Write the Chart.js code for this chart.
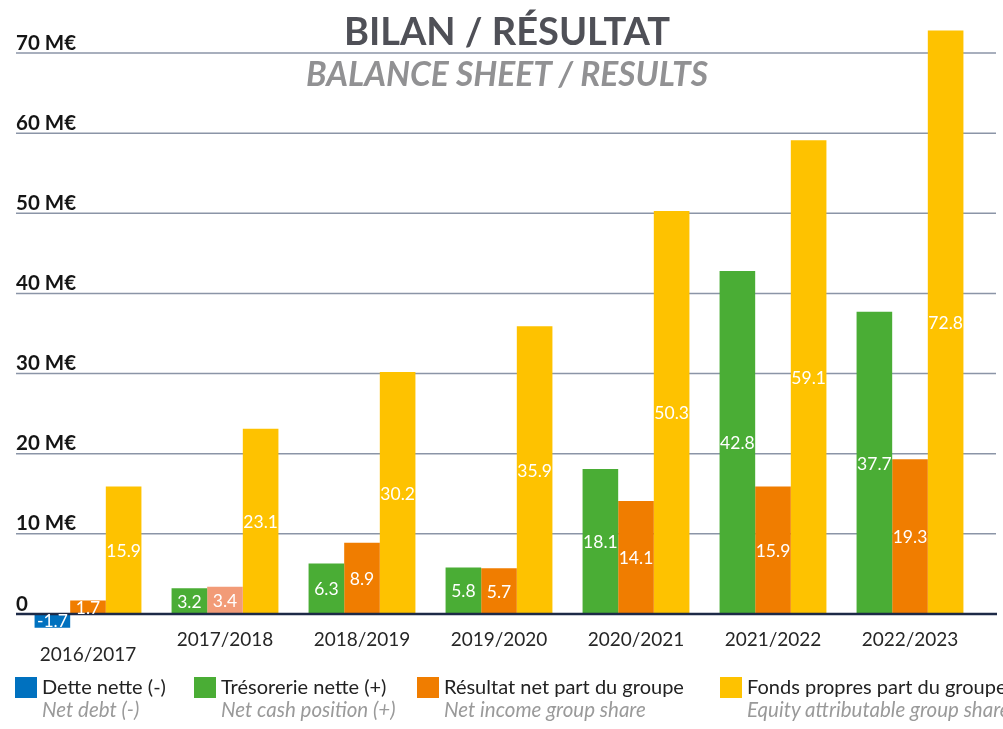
<!DOCTYPE html>
<html>
<head>
<meta charset="utf-8">
<script src="https://cdn.jsdelivr.net/npm/chart.js@4.4.1/dist/chart.umd.min.js"></script>
<style>
  html, body { margin: 0; padding: 0; background: #ffffff; }
  #wrap { position: relative; width: 1003px; height: 729px; overflow: hidden; font-family: Lato, "Noto Sans", sans-serif; }
  #chartBox { position: absolute; left: 0; top: 0; width: 1003px; height: 729px; }
  .title { position: absolute; left: 0; width: 1014px; text-align: center; font-weight: 700; white-space: nowrap; }
  #t1 { top: 8px; font-size: 38px; color: #4f5057; line-height: 44px; }
  #t2 { top: 53px; font-size: 33.5px; color: #919193; font-style: italic; line-height: 40px; }
  .leg { position: absolute; top: 677px; white-space: nowrap; }
  .leg .sw { position: absolute; left: 0; top: 0; width: 22px; height: 21px; }
  .leg .l1 { position: absolute; left: 27px; top: -3px; font-size: 20px; color: #222222; line-height: 25px; }
  .leg .l2 { position: absolute; left: 27px; top: 20px; font-size: 20.5px; color: #9a9a9a; font-style: italic; line-height: 24px; }
</style>
</head>
<body>
<div id="wrap">
  <div id="chartBox"><canvas id="c"></canvas></div>
  <div class="title" id="t1">BILAN / RÉSULTAT</div>
  <div class="title" id="t2">BALANCE SHEET / RESULTS</div>
  <div id="legend"></div>
</div>
<script>
// ---- data ----
const categories = ['2016/2017', '2017/2018', '2018/2019', '2019/2020', '2020/2021', '2021/2022', '2022/2023'];
const netCashDebt = [-1.7, 3.2, 6.3, 5.8, 18.1, 42.8, 37.7];
const netIncome = [1.7, 3.4, 8.9, 5.7, 14.1, 15.9, 19.3];
const equity = [15.9, 23.1, 30.2, 35.9, 50.3, 59.1, 72.8];
const yTickValues = [0, 10, 20, 30, 40, 50, 60, 70];
const yTickLabels = ['0', '10 M€', '20 M€', '30 M€', '40 M€', '50 M€', '60 M€', '70 M€'];
const legendItems = [
  { fr: 'Dette nette (-)', en: 'Net debt (-)' },
  { fr: 'Trésorerie nette (+)', en: 'Net cash position (+)' },
  { fr: 'Résultat net part du groupe', en: 'Net income group share' },
  { fr: 'Fonds propres part du groupe', en: 'Equity attributable group share' }
];

// ---- styles ----
const BLUE = '#0071bf', GREEN = '#4aad35', ORANGE = '#f07d00', SALMON = '#f29b77', YELLOW = '#fec200';
const legendColors = [BLUE, GREEN, ORANGE, YELLOW];
const legendX = [15, 194, 417, 720];
const incomeColors = [ORANGE, SALMON, ORANGE, ORANGE, ORANGE, ORANGE, ORANGE];

// legend
const lg = document.getElementById('legend');
legendItems.forEach((it, i) => {
  const d = document.createElement('div');
  d.className = 'leg';
  d.style.left = legendX[i] + 'px';
  d.innerHTML = '<div class="sw" style="background:' + legendColors[i] + '"></div>' +
    '<div class="l1">' + it.fr + '</div><div class="l2">' + it.en + '</div>';
  lg.appendChild(d);
});

const xLabels = categories.map((c, i) => netCashDebt[i] < 0 ? ['', c] : c);

const gridPlugin = {
  id: 'gridPlugin',
  beforeDatasetsDraw(chart) {
    const y = chart.scales.y, ctx = chart.ctx;
    ctx.save();
    ctx.strokeStyle = '#8b95a7';
    ctx.lineWidth = 1.5;
    yTickValues.forEach(v => {
      if (v === 0) return;
      const py = y.getPixelForValue(v);
      ctx.beginPath(); ctx.moveTo(16, py); ctx.lineTo(996, py); ctx.stroke();
    });
    ctx.restore();
  },
  afterDatasetsDraw(chart) {
    const y = chart.scales.y, ctx = chart.ctx;
    ctx.save();
    const py = y.getPixelForValue(0);
    ctx.strokeStyle = '#1d2a47';
    ctx.lineWidth = 2.5;
    ctx.beginPath(); ctx.moveTo(16, py); ctx.lineTo(997, py); ctx.stroke();
    // value labels
    ctx.fillStyle = '#ffffff';
    ctx.font = '17.5px Lato, "Noto Sans", sans-serif';
    ctx.textAlign = 'center';
    ctx.textBaseline = 'middle';
    chart.data.datasets.forEach((ds, di) => {
      const meta = chart.getDatasetMeta(di);
      meta.data.forEach((el, i) => {
        const v = ds.data[i];
        const cy = (el.y + el.base) / 2;
        ctx.fillText(v.toFixed(1), el.x, cy + 1);
      });
    });
    ctx.restore();
  }
};

new Chart(document.getElementById('c'), {
  type: 'bar',
  data: {
    labels: xLabels,
    datasets: [
      { label: 'Dette nette / Trésorerie nette', data: netCashDebt,
        backgroundColor: netCashDebt.map(v => v < 0 ? BLUE : GREEN) },
      { label: 'Résultat net part du groupe', data: netIncome, backgroundColor: incomeColors },
      { label: 'Fonds propres part du groupe', data: equity, backgroundColor: YELLOW }
    ]
  },
  options: {
    responsive: true,
    maintainAspectRatio: false,
    animation: false,
    layout: { padding: { left: 19.5, right: 24.5, top: 12.93, bottom: 58.97 } },
    plugins: { legend: { display: false }, tooltip: { enabled: false }, title: { display: false } },
    datasets: { bar: { categoryPercentage: 0.78, barPercentage: 1.0 } },
    scales: {
      x: {
        grid: { display: false, drawTicks: false },
        border: { display: false },
        ticks: { color: '#262626', font: { family: 'Lato', size: 19, lineHeight: '15px' }, padding: 2, maxRotation: 0, autoSkip: false },
        afterFit(s) { s.height = 40; }
      },
      y: {
        min: -2, max: 75,
        grid: { display: false, drawTicks: false },
        border: { display: false },
        afterBuildTicks(s) { s.ticks = yTickValues.map(v => ({ value: v })); },
        afterFit(s) { s.width = 0; },
        ticks: {
          mirror: true, padding: -3.5, labelOffset: -10,
          color: '#151515',
          font: { family: 'Lato', size: 20.5, weight: 'bold' },
          callback(v) { const k = yTickValues.indexOf(v); return k >= 0 ? yTickLabels[k] : ''; }
        }
      }
    }
  },
  plugins: [gridPlugin]
});
</script>
</body>
</html>
